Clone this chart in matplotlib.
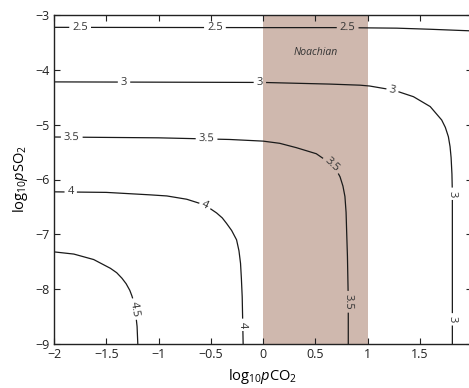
import numpy as np
import matplotlib
matplotlib.use("Agg")
import matplotlib.pyplot as plt
from matplotlib.contour import ContourSet
from matplotlib.ticker import FuncFormatter

plt.rcParams['font.family'] = ['Open Sans', 'DejaVu Sans']
plt.rcParams['mathtext.fontset'] = 'custom'
plt.rcParams['mathtext.rm'] = 'Open Sans'
plt.rcParams['mathtext.it'] = 'Open Sans:italic'

# contour levels (pH) and traced contour lines: log10 pCO2 / log10 pSO2
levels = [2.5, 3.0, 3.5, 4.0, 4.5]

c25_x = [-2.0, 0.0, 0.74, 1.28, 1.6, 2.0]
c25_y = [-3.225, -3.23, -3.23, -3.24, -3.26, -3.29]

c30_x = [-2.0, -1.0, 0.0, 0.64, 0.93, 1.02, 1.25, 1.44, 1.60, 1.71, 1.745, 1.774,
         1.79, 1.80, 1.808, 1.812, 1.812]
c30_y = [-4.22, -4.225, -4.23, -4.26, -4.28, -4.295, -4.37, -4.49, -4.67, -4.915, -5.05, -5.22,
         -5.40, -5.6, -5.9, -6.25, -9.0]

c35_x = [-2.0, -1.0, -0.32, 0.0, 0.16, 0.32, 0.51, 0.64, 0.70, 0.737, 0.765, 0.784,
         0.795, 0.80, 0.808, 0.816, 0.816]
c35_y = [-5.225, -5.24, -5.27, -5.30, -5.34, -5.42, -5.53, -5.70, -5.82, -5.95, -6.12, -6.31,
         -6.6, -6.92, -7.4, -8.20, -9.0]

c40_x = [-2.0, -1.5, -1.08, -0.92, -0.73, -0.556, -0.444, -0.39, -0.349, -0.30, -0.253,
         -0.23, -0.215, -0.207, -0.199, -0.19]
c40_y = [-6.225, -6.235, -6.28, -6.30, -6.36, -6.465, -6.61, -6.70, -6.80, -6.93, -7.10,
         -7.30, -7.53, -7.80, -8.14, -9.0]

c45_x = [-2.0, -1.81, -1.62, -1.46, -1.40, -1.35, -1.31, -1.275, -1.255, -1.237, -1.22,
         -1.205, -1.198]
c45_y = [-7.32, -7.36, -7.46, -7.62, -7.70, -7.80, -7.90, -8.02, -8.12, -8.23, -8.42,
         -8.68, -9.0]

# label anchor points (x, y) for each level
labels_25 = [(-1.75, -3.225), (-0.46, -3.225), (0.81, -3.23)]
labels_30 = [(-1.33, -4.22), (-0.03, -4.23), (1.24, -4.36), (1.81, -6.26), (1.81, -8.55)]
labels_35 = [(-1.83, -5.225), (-0.54, -5.26), (0.66, -5.73), (0.816, -8.23)]
labels_40 = [(-1.84, -6.225), (-0.55, -6.46), (-0.19, -8.65)]
labels_45 = [(-1.22, -8.36)]

noachian = (0.0, 1.0)

fig = plt.figure(figsize=(4.69, 3.88), dpi=100)
ax = fig.add_axes([54 / 469, 44 / 388, 418 / 469, 329 / 388])

ax.axvspan(noachian[0], noachian[1], color='#cfb8ae', lw=0, zorder=0)
ax.text(np.mean(noachian), -3.69, 'Noachian', style='italic', fontsize=7.5,
        color='#333333', ha='center', va='center')

lines = [(c25_x, c25_y), (c30_x, c30_y), (c35_x, c35_y), (c40_x, c40_y), (c45_x, c45_y)]
allsegs = [[np.column_stack([lx, ly])] for lx, ly in lines]
cs = ContourSet(ax, levels, allsegs, colors='#1a1a1a', linewidths=0.9)

ax.set_xlim(-2, 2)
ax.set_ylim(-9, -3)
ax.set_xticks(np.arange(-2, 1.51, 0.5))
ax.set_yticks(np.arange(-9, -2.99, 1))
fmt = FuncFormatter(lambda v, p: f'{v:g}'.replace('-', '\u2212'))
ax.xaxis.set_major_formatter(fmt)
ax.yaxis.set_major_formatter(fmt)
ax.tick_params(direction='in', top=True, right=True, length=4, width=0.8,
               labelsize=9, colors='#222222', pad=3)
for s in ax.spines.values():
    s.set_linewidth(1.0)
    s.set_color('#222222')

ax.set_xlabel(r'$\mathrm{log}_{10}p\mathrm{CO}_2$', fontsize=10.5, labelpad=4)
ax.set_ylabel(r'$\mathrm{log}_{10}p\mathrm{SO}_2$', fontsize=10.5, labelpad=4)

fig.canvas.draw()
manual = labels_25 + labels_30 + labels_35 + labels_40 + labels_45
ax.clabel(cs, manual=manual, inline=True, fmt='%g', fontsize=8, colors='#333333',
          inline_spacing=3)

fig.savefig('out.png', dpi=100)
